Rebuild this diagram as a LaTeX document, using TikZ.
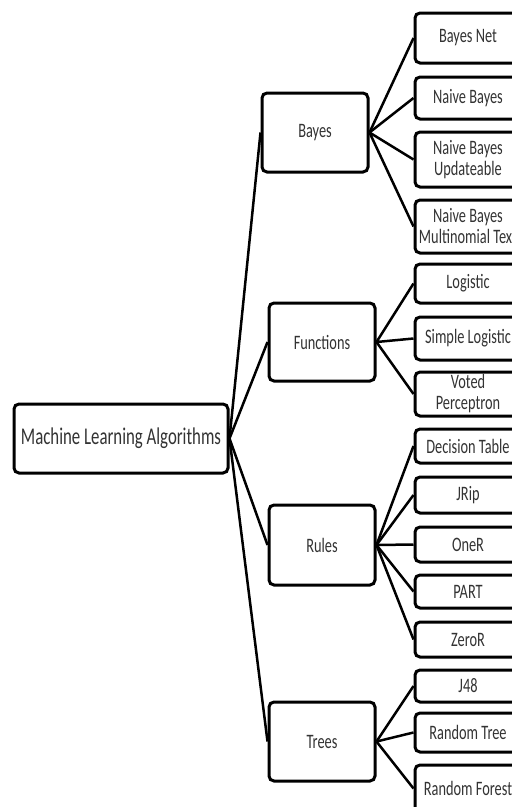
\documentclass[tikz,border=0pt]{standalone}
\usepackage{fontspec}
\setmainfont{Carlito}[FakeStretch=0.7]
\begin{document}
\begin{tikzpicture}[x=1pt,y=-1pt,
  box/.style={draw=black, line width=3pt, rounded corners=5pt, fill=white, inner sep=0pt, align=center, text=black!80,
    font=\fontsize{20.5}{21}\selectfont},
  rootbox/.style={box, minimum width=214pt, minimum height=69pt, font=\fontsize{24}{26}\selectfont},
  catbox/.style={box, minimum width=106pt},
  leafbox/.style={box, minimum width=106pt},
  conn/.style={draw=black, line width=2.5pt}]
\useasboundingbox (0,0) rectangle (512,807);
\clip (0,0) rectangle (512,807);
\node[rootbox] (root) at (121,438.5) {Machine Learning Algorithms};
\node[catbox, minimum height=79pt] (bayes) at (315,132.5) {Bayes};
\node[catbox, minimum height=78pt] (func) at (322,342) {Functions};
\node[catbox, minimum height=80pt] (rules) at (322,545) {Rules};
\node[catbox, minimum height=79pt] (trees) at (322,741.5) {Trees};
% leaves
\node[leafbox, minimum height=50pt] (bn) at (468,38) {Bayes Net};
\node[leafbox, minimum height=42pt] (nb) at (468,98) {Naive Bayes};
\node[leafbox, minimum height=55pt] (nbu) at (468,159.5) {Naive Bayes\\Updateable};
\node[leafbox, minimum height=53pt] (nbm) at (468,226.5) {Naive Bayes\\Multinomial Text};
\node[leafbox, minimum height=39pt] (log) at (468,283.5) {Logistic};
\node[leafbox, minimum height=43pt] (sl) at (468,338.5) {Simple Logistic};
\node[leafbox, minimum height=44pt] (vp) at (468,394) {Voted\\Perceptron};
\node[leafbox, minimum height=34pt] (dt) at (468,446) {Decision Table};
\node[leafbox, minimum height=36pt] (jrip) at (468,495) {JRip};
\node[leafbox, minimum height=35pt] (oner) at (468,544.5) {OneR};
\node[leafbox, minimum height=33pt] (part) at (468,591.5) {PART};
\node[leafbox, minimum height=35pt] (zeror) at (468,639.5) {ZeroR};
\node[leafbox, minimum height=32pt] (j48) at (468,686) {J48};
\node[leafbox, minimum height=39pt] (rt) at (468,732.5) {Random Tree};
\node[leafbox, minimum height=47pt] (rf) at (468,788.5) {Random Forest};
% connectors
\foreach \c in {bayes,func,rules,trees} \draw[conn] (root.east) -- (\c.west);
\foreach \l in {bn,nb,nbu,nbm} \draw[conn] (bayes.east) -- (\l.west);
\foreach \l in {log,sl,vp} \draw[conn] (func.east) -- (\l.west);
\foreach \l in {dt,jrip,oner,part,zeror} \draw[conn] (rules.east) -- (\l.west);
\foreach \l in {j48,rt,rf} \draw[conn] (trees.east) -- (\l.west);
\end{tikzpicture}
\end{document}
